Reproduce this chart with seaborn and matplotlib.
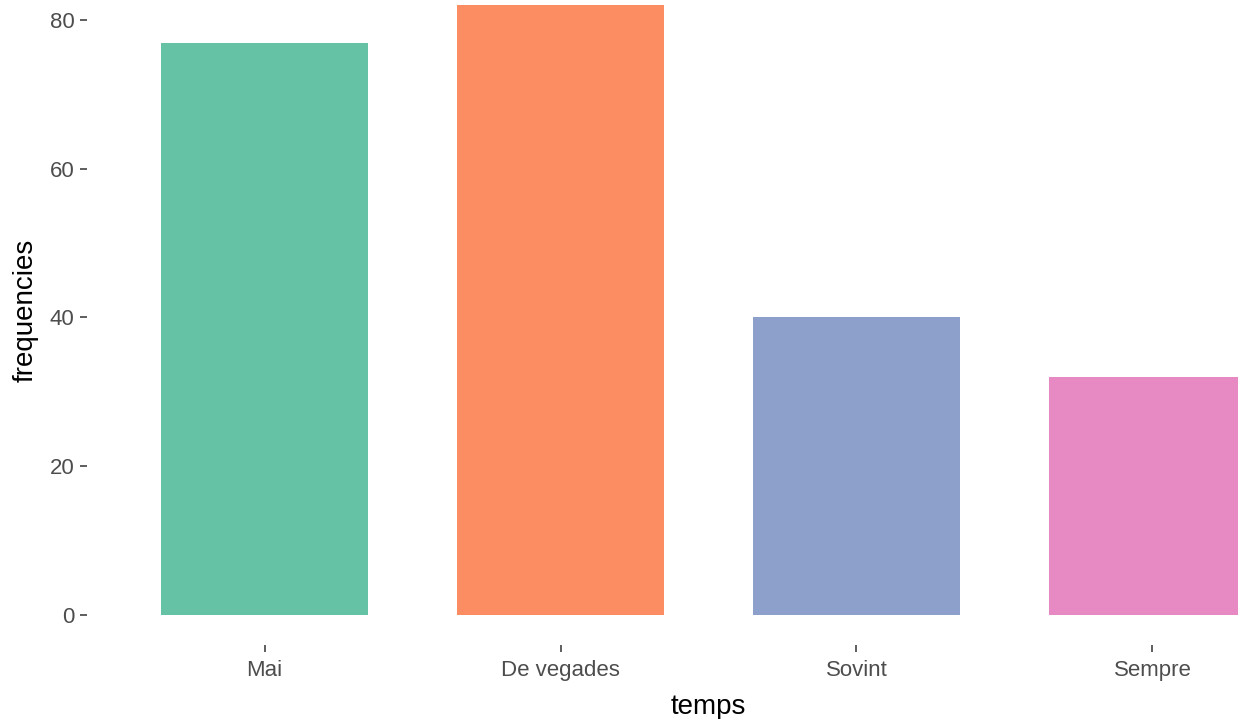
import matplotlib
matplotlib.use("Agg")
import matplotlib.pyplot as plt
import seaborn as sns
import pandas as pd

# data
categories = ['Mai', 'De vegades', 'Sovint', 'Sempre']
frequencies = [77, 82, 40, 32]
colors = ['#66C2A5', '#FC8D62', '#8DA0CB', '#E78AC3']

df = pd.DataFrame({'temps': categories, 'frequencies': frequencies})

sns.set_theme(style='white')
plt.rcParams['font.family'] = ['Liberation Sans', 'DejaVu Sans']

fig = plt.figure(figsize=(12.38, 7.19), dpi=100)
# panel runs past the top and right edge, like the cropped original
W, H = 1238, 719
left, right, bottom, top = 87, 1330, 645, -25
ax = fig.add_axes([left / W, (H - bottom) / H, (right - left) / W, (bottom - top) / H])

sns.barplot(data=df, x='temps', y='frequencies', hue='temps', order=categories,
            hue_order=categories, palette=colors, width=0.7, legend=False,
            saturation=1, linewidth=0, ax=ax)

ax.set_xlim(-0.6, 3.6)
ax.set_ylim(-4.1, 86.1)
ax.set_yticks([0, 20, 40, 60, 80])

for s in ax.spines.values():
    s.set_visible(False)
ax.tick_params(axis='both', which='major', length=5, width=1.1, color='#333333',
               labelcolor='#4D4D4D', labelsize=16, pad=4,
               bottom=True, left=True)
ax.tick_params(axis='x', pad=6)

ax.set_xlabel('temps', fontsize=20, color='black', labelpad=9)
ax.set_ylabel('frequencies', fontsize=20, color='black', labelpad=8)

fig.savefig('out.png', dpi=100, facecolor='white')
